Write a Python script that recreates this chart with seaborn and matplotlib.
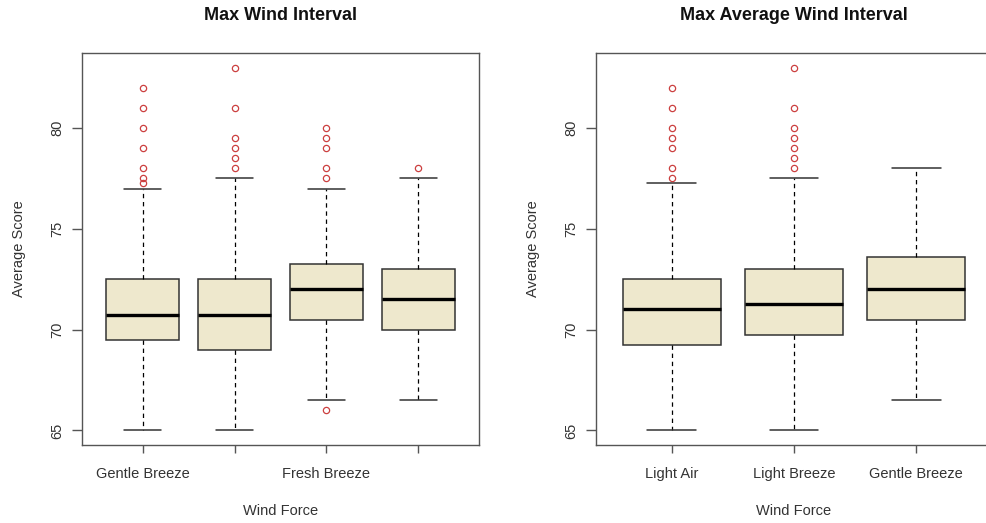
import numpy as np
import pandas as pd
import seaborn as sns
import matplotlib.pyplot as plt

# ------------------------------- setting start ------------------------------ #
box_fill = "#EEE8CD"
box_edge = "#333333"
flier_red = "#CC4040"
spine_gray = "#555555"
text_gray = "#333333"

sns.set_style("white")
plt.rcParams['font.family'] = ['Liberation Sans', 'DejaVu Sans']

figsize = (9.87, 5.23)
# -------------------------------- setting end ------------------------------- #

# data: whisker ends, quartiles, median, outliers
left_cats = ["Gentle Breeze", "Moderate Breeze", "Fresh Breeze", "Strong Breeze"]
left_ticklabels = ["Gentle Breeze", "", "Fresh Breeze", ""]
left_lo = [65.0, 65.0, 66.5, 66.5]
left_q1 = [69.5, 69.0, 70.5, 70.0]
left_med = [70.75, 70.75, 72.0, 71.5]
left_q3 = [72.5, 72.5, 73.25, 73.0]
left_hi = [77.0, 77.5, 77.0, 77.5]
left_out = [
    [77.25, 77.5, 78, 79, 80, 81, 82],
    [78, 78.5, 79, 79.5, 81, 83],
    [66, 77.5, 78, 79, 79.5, 80],
    [78],
]

right_cats = ["Light Air", "Light Breeze", "Gentle Breeze"]
right_ticklabels = ["Light Air", "Light Breeze", "Gentle Breeze"]
right_lo = [65.0, 65.0, 66.5]
right_q1 = [69.25, 69.75, 70.5]
right_med = [71.0, 71.25, 72.0]
right_q3 = [72.5, 73.0, 73.6]
right_hi = [77.25, 77.5, 78.0]
right_out = [
    [77.5, 78, 79, 79.5, 80, 81, 82],
    [78, 78.5, 79, 79.5, 80, 81, 83],
    [],
]

y_ticks = [65, 70, 75, 80]


def build_sample(lo, q1, med, q3, hi, out):
    # pin quartiles with repeated values, balance both tails
    low = [lo] + [v for v in out if v < q1]
    high = [hi] + [v for v in out if v > q3]
    m = max(len(low), len(high))
    low += [lo] * (m - len(low))
    high += [hi] * (m - len(high))
    c = max(20, 5 * m)
    return low + [q1] * c + [med] * c + [q3] * c + high


def make_frame(cats, lo, q1, med, q3, hi, out):
    rows = []
    for i, cat in enumerate(cats):
        for v in build_sample(lo[i], q1[i], med[i], q3[i], hi[i], out[i]):
            rows.append({"Wind Force": cat, "Average Score": v})
    return pd.DataFrame(rows)


df_left = make_frame(left_cats, left_lo, left_q1, left_med, left_q3, left_hi, left_out)
df_right = make_frame(right_cats, right_lo, right_q1, right_med, right_q3, right_hi, right_out)

fig = plt.figure(figsize=figsize, dpi=100)
ax_l = fig.add_axes([82 / 987, 78 / 523, 397 / 987, 392 / 523])
ax_r = fig.add_axes([596 / 987, 78 / 523, 396 / 987, 392 / 523])

box_kws = dict(
    color=box_fill,
    saturation=1,
    width=0.8,
    whis=1.5,
    boxprops=dict(edgecolor=box_edge, linewidth=1.1),
    medianprops=dict(color="black", linewidth=2.4),
    whiskerprops=dict(color="black", linewidth=0.9, linestyle=(0, (3.5, 3))),
    capprops=dict(color=box_edge, linewidth=1.1),
    flierprops=dict(marker="o", markerfacecolor="none", markeredgecolor=flier_red,
                    markersize=4.5, markeredgewidth=0.9),
)

panels = [
    (ax_l, df_left, left_cats, left_ticklabels, "Max Wind Interval"),
    (ax_r, df_right, right_cats, right_ticklabels, "Max Average Wind Interval"),
]

for ax, df, cats, ticklabels, title in panels:
    sns.boxplot(data=df, x="Wind Force", y="Average Score", order=cats, ax=ax, **box_kws)
    n = len(cats)
    ax.set_xlim(-0.5 - 0.04 * n, n - 0.5 + 0.04 * n)
    ax.set_ylim(64.28, 83.72)
    ax.set_xticks(range(n))
    ax.set_xticklabels(ticklabels, fontsize=10.5, color=text_gray)
    ax.set_yticks(y_ticks)
    ax.set_yticklabels([str(t) for t in y_ticks], fontsize=10.5, color=text_gray,
                       rotation=90, va="center")
    ax.tick_params(axis="x", length=6, width=1, color=spine_gray, pad=10, bottom=True)
    ax.tick_params(axis="y", length=7, width=1, color=spine_gray, pad=6, left=True)
    for sp in ax.spines.values():
        sp.set_color(spine_gray)
        sp.set_linewidth(1.0)
        sp.set_visible(True)
    ax.set_xlabel("Wind Force", fontsize=10.5, color=text_gray)
    ax.set_ylabel("Average Score", fontsize=10.5, color=text_gray)
    ax.xaxis.set_label_coords(0.5, -66 / 392)
    ax.xaxis.label.set_va("center")
    ax.yaxis.set_label_coords(-63 / 397, 0.5)
    ax.yaxis.label.set_va("center")
    ax.text(0.5, 1 + 37 / 392, title, transform=ax.transAxes, ha="center", va="center",
            fontsize=13, fontweight="bold", color="#111111")

plt.savefig("out.png", dpi=100)
